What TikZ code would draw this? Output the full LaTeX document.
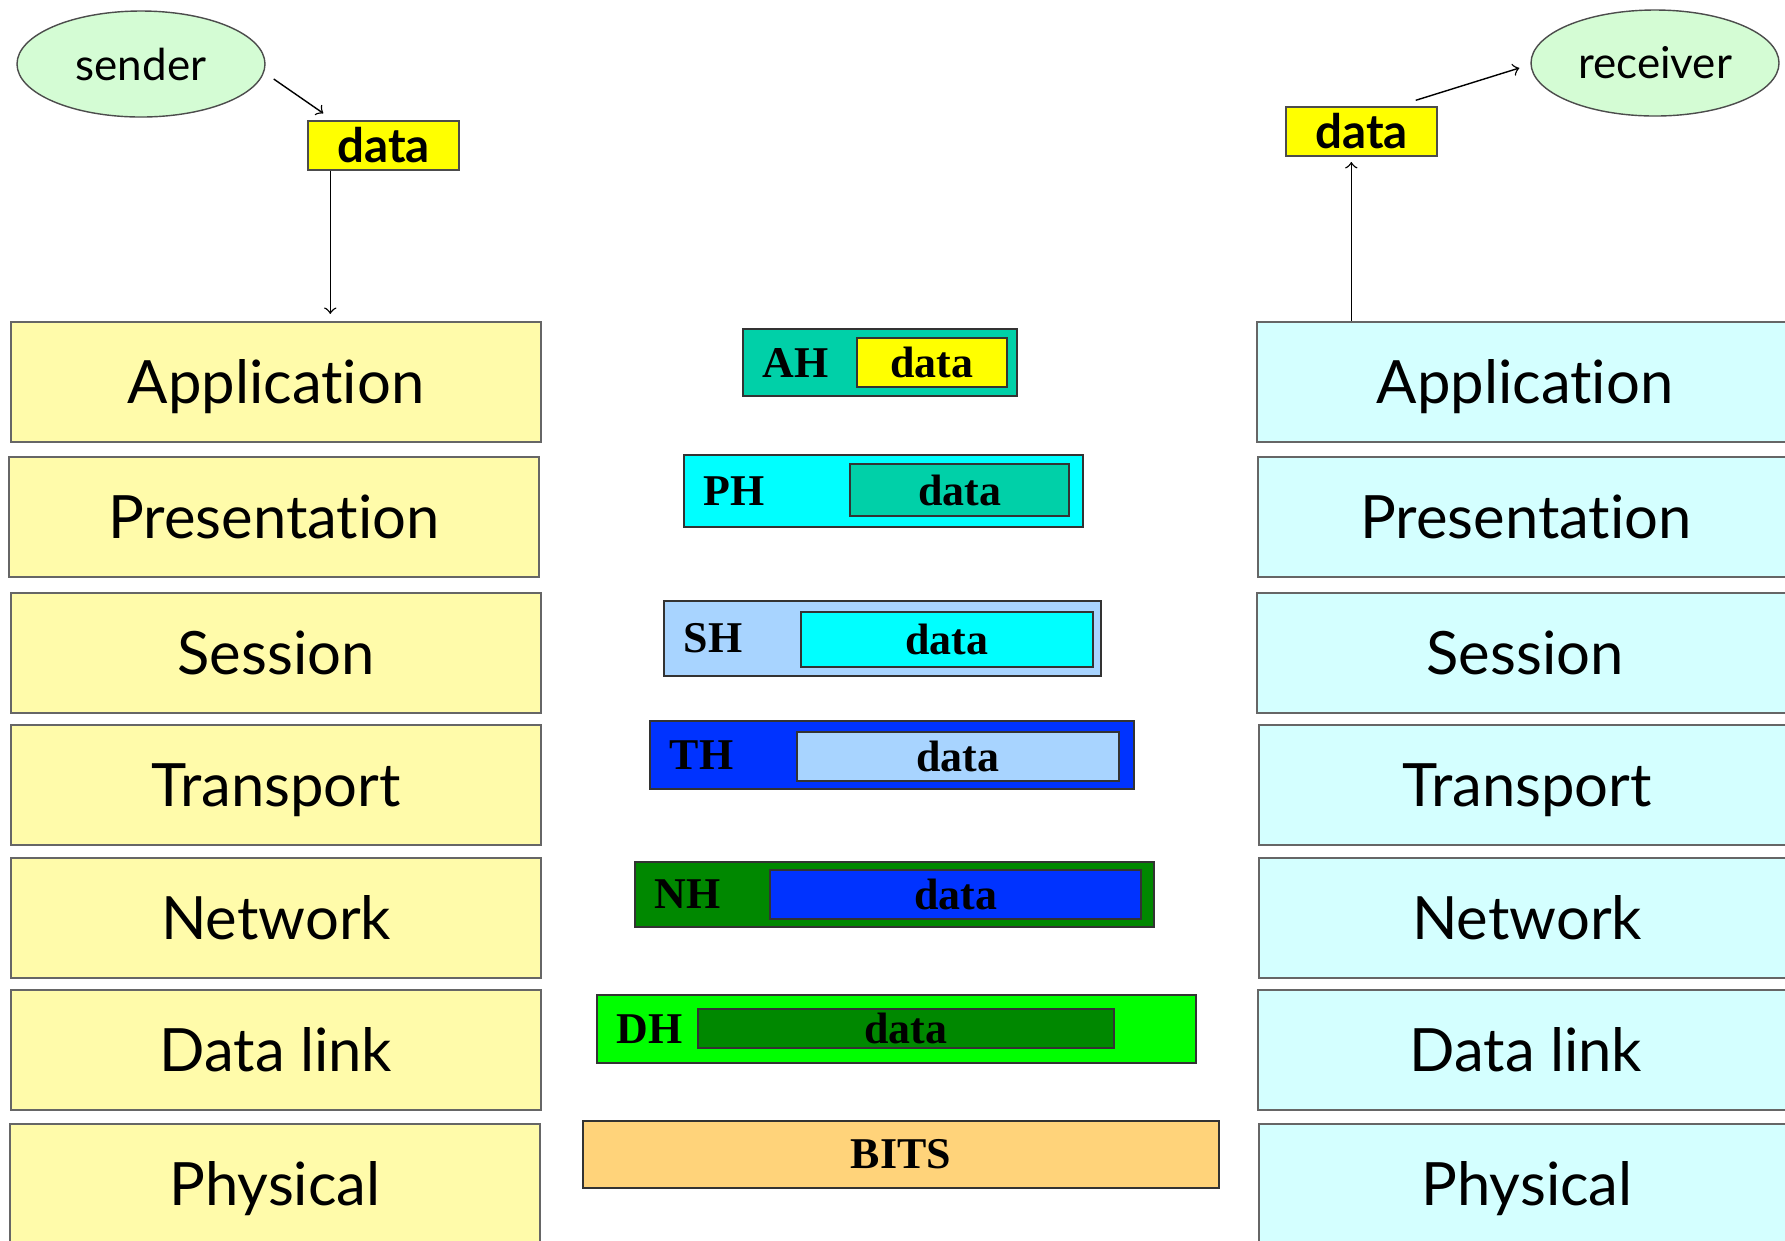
\documentclass[tikz,border=0pt]{standalone}
\usepackage{fontspec}
\setmainfont{Liberation Serif}
\newfontfamily\layerfont{Lato}[Ligatures=NoCommon]
\usetikzlibrary{shapes.geometric}
\definecolor{sendyellow}{RGB}{255,251,170}
\definecolor{recvcyan}{RGB}{212,255,255}
\definecolor{endgreen}{RGB}{212,252,212}
\definecolor{datayellow}{RGB}{255,255,0}
\definecolor{ahteal}{RGB}{0,208,168}
\definecolor{phcyan}{RGB}{0,255,255}
\definecolor{shblue}{RGB}{168,212,255}
\definecolor{thblue}{RGB}{0,51,255}
\definecolor{nhgreen}{RGB}{0,136,0}
\definecolor{dhgreen}{RGB}{0,255,0}
\definecolor{bitsorange}{RGB}{255,211,122}
\tikzset{
  layer/.style={draw=black!60,line width=0.6pt,minimum width=5.30cm,minimum height=1.20cm,inner sep=0pt,text height=12.2pt,text depth=0pt,font=\layerfont\fontsize{17}{20}\selectfont},
  sendlayer/.style={layer,fill=sendyellow},
  recvlayer/.style={layer,fill=recvcyan,minimum width=5.36cm},
  endpoint/.style={ellipse,draw=black!70,fill=endgreen,minimum width=2.48cm,minimum height=1.06cm,inner sep=0pt,font=\layerfont\fontsize{12.5}{15}\selectfont},
  userdata/.style={draw=black!70,fill=datayellow,minimum width=1.51cm,minimum height=0.49cm,inner sep=0pt,font=\layerfont\bfseries\fontsize{13.5}{16}\selectfont},
  pkt/.style={draw=black!80,line width=0.5pt,inner sep=0pt},
  payload/.style={pkt,font=\bfseries\fontsize{12.5}{15}\selectfont},
  hdr/.style={anchor=west,inner sep=0pt,font=\bfseries\fontsize{12.5}{15}\selectfont}
}
\begin{document}
\begin{tikzpicture}
    \useasboundingbox (0,0) rectangle (17.85,-12.40);
    % end systems
    \node[endpoint] (sender) at (1.41,-0.64) {sender};
    \node[userdata] (sdata) at (3.835,-1.455) {data};
    \node[endpoint] (receiver) at (16.55,-0.63) {receiver};
    \node[userdata] (rdata) at (13.615,-1.315) {data};
    % sending stack
    \node[sendlayer] (lapp) at (2.76,-3.82) {Application};
    \node[sendlayer] (lpre) at (2.74,-5.17) {Presentation};
    \node[sendlayer] (lses) at (2.76,-6.53) {Session};
    \node[sendlayer] (ltra) at (2.76,-7.85) {Transport};
    \node[sendlayer] (lnet) at (2.76,-9.18) {Network};
    \node[sendlayer] (ldat) at (2.76,-10.50) {Data link};
    \node[sendlayer] (lphy) at (2.75,-11.84) {Physical};
    % receiving stack
    \node[recvlayer] (rapp) at (15.25,-3.82) {Application};
    \node[recvlayer] (rpre) at (15.26,-5.17) {Presentation};
    \node[recvlayer] (rses) at (15.25,-6.53) {Session};
    \node[recvlayer] (rtra) at (15.27,-7.85) {Transport};
    \node[recvlayer] (rnet) at (15.27,-9.18) {Network};
    \node[recvlayer] (rdat) at (15.26,-10.50) {Data link};
    \node[recvlayer] (rphy) at (15.27,-11.84) {Physical};
    % packets
    \node[pkt,fill=ahteal,minimum width=2.74cm,minimum height=0.67cm] (ahbox) at (8.80,-3.625) {};
    \node[payload,fill=datayellow,minimum width=1.50cm,minimum height=0.49cm] (ahdata) at (9.32,-3.625) {data};
    \node[hdr] (ahlbl) at ([xshift=0.2cm]ahbox.west) {AH};
    \node[pkt,fill=phcyan,minimum width=3.99cm,minimum height=0.72cm] (phbox) at (8.835,-4.91) {};
    \node[payload,fill=ahteal,minimum width=2.19cm,minimum height=0.52cm] (phdata) at (9.595,-4.90) {data};
    \node[hdr] (phlbl) at ([xshift=0.2cm]phbox.west) {PH};
    \node[pkt,fill=shblue,minimum width=4.37cm,minimum height=0.75cm] (shbox) at (8.825,-6.385) {};
    \node[payload,fill=phcyan,minimum width=2.92cm,minimum height=0.55cm] (shdata) at (9.47,-6.395) {data};
    \node[hdr] (shlbl) at ([xshift=0.2cm]shbox.west) {SH};
    \node[pkt,fill=thblue,minimum width=4.84cm,minimum height=0.68cm] (thbox) at (8.92,-7.55) {};
    \node[payload,fill=shblue,minimum width=3.22cm,minimum height=0.49cm] (thdata) at (9.58,-7.565) {data};
    \node[hdr] (thlbl) at ([xshift=0.2cm]thbox.west) {TH};
    \node[pkt,fill=nhgreen,minimum width=5.19cm,minimum height=0.65cm] (nhbox) at (8.945,-8.945) {};
    \node[payload,fill=thblue,minimum width=3.71cm,minimum height=0.49cm] (nhdata) at (9.555,-8.945) {data};
    \node[hdr] (nhlbl) at ([xshift=0.2cm]nhbox.west) {NH};
    \node[pkt,fill=dhgreen,minimum width=5.99cm,minimum height=0.68cm] (dhbox) at (8.965,-10.29) {};
    \node[payload,fill=nhgreen,minimum width=4.16cm,minimum height=0.39cm] (dhdata) at (9.06,-10.285) {data};
    \node[hdr] (dhlbl) at ([xshift=0.2cm]dhbox.west) {DH};
    \node[payload,fill=bitsorange,minimum width=6.36cm,minimum height=0.67cm] (bits) at (9.01,-11.545) {BITS};
    % arrows
    \coordinate (sdown) at ([xshift=0.23cm]sdata.south west);
    \coordinate (rup) at ([xshift=0.66cm]rdata.south west);
    \draw[->,line width=0.4pt] ([xshift=0.08cm,yshift=-0.15cm]sender.east) -- ([xshift=0.16cm,yshift=0.07cm]sdata.north west);
    \draw[->,line width=0.4pt,shorten >=2pt] (sdown) -- (sdown |- lapp.north);
    \draw[->,line width=0.4pt,shorten >=1.5pt] (rup |- rapp.north) -- (rup);
    \draw[->,line width=0.4pt] ([xshift=-0.22cm,yshift=0.06cm]rdata.north east) -- ([xshift=-0.11cm,yshift=-0.05cm]receiver.west);
\end{tikzpicture}
\end{document}
